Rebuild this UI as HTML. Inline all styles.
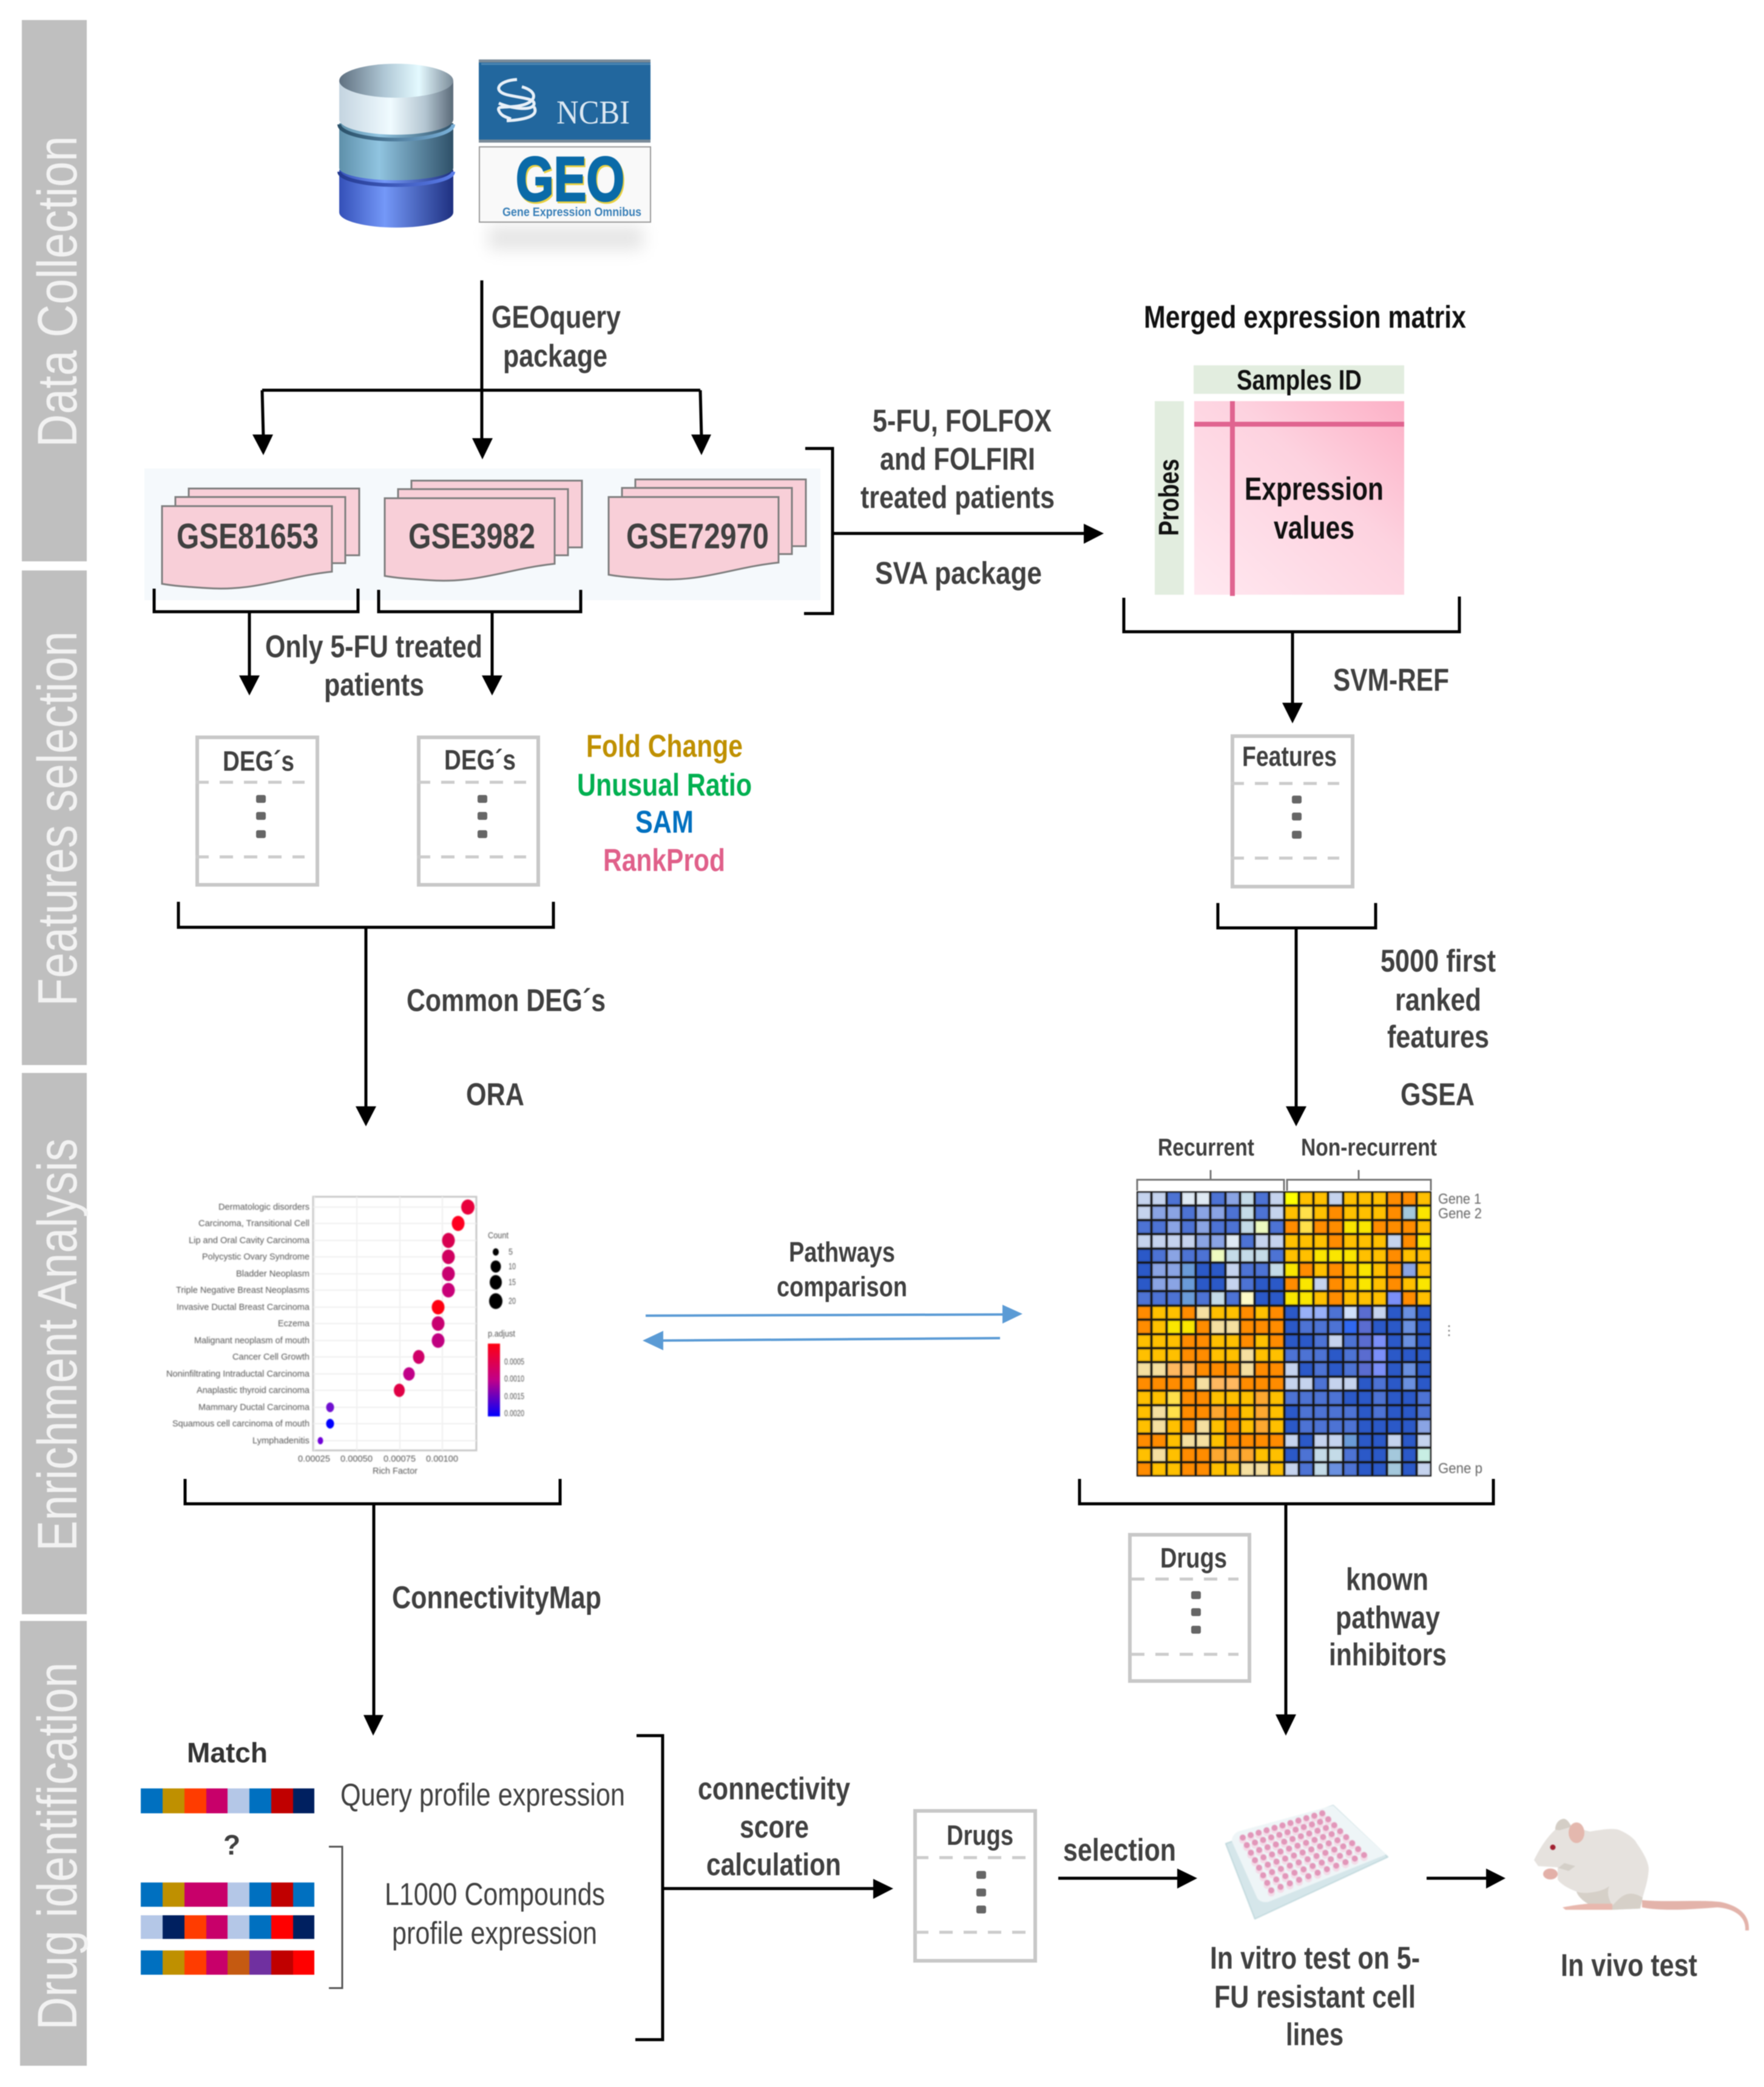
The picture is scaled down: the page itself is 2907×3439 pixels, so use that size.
<!DOCTYPE html>
<html><head><meta charset="utf-8"><title>Workflow</title>
<style>
html,body{margin:0;padding:0;background:#fff}
#w{position:relative;width:2907px;height:3439px;overflow:hidden;background:#fff;filter:blur(.7px)}
svg{position:absolute;left:0;top:0}
text{font-family:"Liberation Sans",sans-serif;font-weight:bold;fill:#404040;dominant-baseline:central}
.n{font-weight:normal}
.k{fill:#111}
.band{font-weight:normal;fill:#f2f2f2;font-size:92px;dominant-baseline:auto}
.dp text{font-weight:normal;fill:#555;font-size:15px}
.l{fill:none;stroke:#000;stroke-width:5}
.dash{stroke:#ccc;stroke-width:5;stroke-dasharray:22 18;fill:none}
.box{fill:#fff;stroke:#c8c8c8;stroke-width:6}
#hm{position:absolute;left:1873px;top:1963px;width:486px;height:470px;box-sizing:border-box;display:grid;grid-template-columns:repeat(20,1fr);grid-template-rows:repeat(20,1fr);gap:3px;padding:2px;background:#141414;filter:blur(.5px)}
#hm i{display:block;box-shadow:inset 0 0 2px 1px rgba(0,0,0,.22)}
.a{background:#c5d3ee}.b{background:#4d73d4}.c{background:#8aa4e4}.d{background:#dfeaf4}.e{background:#c4dbe8}.f{background:#2b59c8}.g{background:#6a9bd8}.h{background:#eefbc0}.j{background:#fffbc8}.k2{background:#5a6cd0}.m{background:#6a90e0}.o{background:#98b0f8}.p{background:#d0e0fa}.q{background:#3068f0}.r{background:#7b8ff8}.s{background:#a4c8dc}.t{background:#c8eee4}
.O{background:#ff8c00}.Y{background:#ffc000}.L{background:#fae600}.T{background:#f5dfa0}.P{background:#ffb860}.Q{background:#fda830}.Z{background:#ffe04a}.W{background:#ffff00}
</style></head><body><div id="w">
<svg width="2907" height="3439" viewBox="0 0 2907 3439" xmlns="http://www.w3.org/2000/svg">
<defs>
<linearGradient id="g1" x1="0" x2="1" y1="0" y2="0"><stop offset="0" stop-color="#c4d4e0"/><stop offset=".45" stop-color="#f0fbff"/><stop offset=".75" stop-color="#b4c6d2"/><stop offset="1" stop-color="#5a6a78"/></linearGradient>
<linearGradient id="g1t" x1="0" x2="1" y1="0" y2="0"><stop offset="0" stop-color="#5f7080"/><stop offset=".4" stop-color="#b0c8d6"/><stop offset=".7" stop-color="#e4faff"/><stop offset="1" stop-color="#7a8a98"/></linearGradient>
<linearGradient id="g2" x1="0" x2="1" y1="0" y2="0"><stop offset="0" stop-color="#5e90aa"/><stop offset=".35" stop-color="#90c4e0"/><stop offset="1" stop-color="#2e5068"/></linearGradient>
<linearGradient id="g3" x1="0" x2="1" y1="0" y2="0"><stop offset="0" stop-color="#3450b8"/><stop offset=".4" stop-color="#7498f8"/><stop offset="1" stop-color="#1e3080"/></linearGradient>
<linearGradient id="lip" x1="0" x2="1" y1="0" y2="0"><stop offset="0" stop-color="#2a5068"/><stop offset="1" stop-color="#7ab0d8"/></linearGradient>
<linearGradient id="lip2" x1="0" x2="1" y1="0" y2="0"><stop offset="0" stop-color="#243a90"/><stop offset="1" stop-color="#5a7ce8"/></linearGradient>
<linearGradient id="pk" x1="0" x2="1" y1="1" y2="0"><stop offset="0" stop-color="#ffe8f0"/><stop offset=".6" stop-color="#fdd2df"/><stop offset="1" stop-color="#fcb0c6"/></linearGradient>
<linearGradient id="pa" x1="0" x2="0" y1="0" y2="1"><stop offset="0" stop-color="#ff0010"/><stop offset=".5" stop-color="#c00088"/><stop offset="1" stop-color="#0000ff"/></linearGradient>
<g id="doc">
<path d="M44 -29H325V81H44Z" fill="#f8cfd8" stroke="#7f7f7f" stroke-width="3"/>
<path d="M22 -15H302V94H22Z" fill="#f8cfd8" stroke="#7f7f7f" stroke-width="3"/>
<path d="M0 0H280V108C203 116 153 141 73 135C43 133 23 132 0 128Z" fill="#f8cfd8" stroke="#7f7f7f" stroke-width="3"/>
</g>
</defs>

<!-- bands -->
<rect x="36" y="33" width="107" height="892" fill="#bfbfbf"/>
<rect x="36" y="940" width="107" height="815" fill="#bfbfbf"/>
<rect x="36" y="1768" width="107" height="892" fill="#bfbfbf"/>
<rect x="33" y="2671" width="110" height="733" fill="#bfbfbf"/>
<text class="band" transform="translate(126 737) rotate(-90)" textLength="513" lengthAdjust="spacingAndGlyphs">Data Collection</text>
<text class="band" transform="translate(126 1658) rotate(-90)" textLength="618" lengthAdjust="spacingAndGlyphs">Features selection</text>
<text class="band" transform="translate(126 2556) rotate(-90)" textLength="680" lengthAdjust="spacingAndGlyphs">Enrichment Analysis</text>
<text class="band" transform="translate(126 3345) rotate(-90)" textLength="606" lengthAdjust="spacingAndGlyphs">Drug identification</text>

<!-- database -->
<path d="M559 280V350A94 25 0 0 0 747 350V280Z" fill="url(#g3)"/>
<path d="M559 283A94 22 0 0 0 747 283" fill="none" stroke="url(#lip2)" stroke-width="6"/>
<path d="M559 203V277A94 20 0 0 0 747 277V203Z" fill="url(#g2)"/>
<path d="M559 205A94 25 0 0 0 747 205" fill="none" stroke="url(#lip)" stroke-width="6"/>
<path d="M559 133V197A94 25 0 0 0 747 197V133Z" fill="url(#g1)"/>
<ellipse cx="653" cy="133" rx="94" ry="28" fill="url(#g1t)"/>

<!-- NCBI GEO -->
<rect x="805" y="372" width="255" height="40" fill="#e6e6e6" style="filter:blur(13px)"/>
<rect x="789" y="98" width="283" height="137" fill="#7a8a98"/>
<rect x="789" y="103" width="283" height="127" fill="#22679e"/>
<rect x="793" y="104" width="279" height="3" fill="#4a86b4"/>
<path d="M852 131C820 133 812 150 835 156C860 162 882 162 880 172C876 184 840 178 822 170M860 143C885 150 885 165 865 172C840 180 818 172 822 182C826 192 835 193 842 196M835 199C870 197 888 190 880 176" fill="none" stroke="#e8f0f8" stroke-width="5"/>
<text x="917" y="185" font-size="55" textLength="121" lengthAdjust="spacingAndGlyphs" style="font-family:'Liberation Serif',serif;font-weight:normal;fill:#dce8f2">NCBI</text>
<rect x="790" y="242" width="282" height="124" fill="#f9f9f9" stroke="#999" stroke-width="2"/>
<text x="850" y="295" font-size="103" textLength="179" lengthAdjust="spacingAndGlyphs" style="fill:#0a6aa8;stroke:#0a6aa8;stroke-width:3;filter:drop-shadow(2px 3px 0 #e8d040)">GEO</text>
<text x="828" y="350" font-size="20" textLength="229" lengthAdjust="spacingAndGlyphs" style="fill:#3a80b8">Gene Expression Omnibus</text>

<!-- top arrows -->
<path class="l" d="M794 462V725M432 643H1154M432 643L434 720M1154 643L1156 720"/>
<polygon points="778,722 812,722 795,757" fill="#000"/>
<polygon points="416,716 450,716 434,750" fill="#000"/>
<polygon points="1139,716 1172,716 1156,750" fill="#000"/>
<text x="810" y="523" font-size="52" textLength="213" lengthAdjust="spacingAndGlyphs">GEOquery</text>
<text x="829" y="587" font-size="52" textLength="172" lengthAdjust="spacingAndGlyphs">package</text>

<rect x="238" y="772" width="1114" height="217" fill="#f5f9fc"/>
<use href="#doc" x="267" y="834"/>
<use href="#doc" x="634" y="821"/>
<use href="#doc" x="1003" y="819"/>
<text x="291" y="884" font-size="58" textLength="234" lengthAdjust="spacingAndGlyphs">GSE81653</text>
<text x="673" y="884" font-size="58" textLength="209" lengthAdjust="spacingAndGlyphs">GSE3982</text>
<text x="1032" y="884" font-size="58" textLength="235" lengthAdjust="spacingAndGlyphs">GSE72970</text>

<path class="l" d="M254 970V1008H590V970M624 972V1008H957V972M411 1008V1120M811 1008V1120"/>
<polygon points="394,1113 428,1113 411,1146" fill="#000"/>
<polygon points="794,1113 828,1113 811,1146" fill="#000"/>
<text x="437" y="1066" font-size="52" textLength="358" lengthAdjust="spacingAndGlyphs">Only 5-FU treated</text>
<text x="534" y="1129" font-size="52" textLength="165" lengthAdjust="spacingAndGlyphs">patients</text>

<!-- right bracket -->
<path class="l" d="M1327 739H1372V1011H1325M1372 879H1790"/>
<polygon points="1786,863 1786,896 1819,879" fill="#000"/>
<text x="1438" y="694" font-size="52" textLength="295" lengthAdjust="spacingAndGlyphs">5-FU, FOLFOX</text>
<text x="1450" y="757" font-size="52" textLength="256" lengthAdjust="spacingAndGlyphs">and FOLFIRI</text>
<text x="1418" y="820" font-size="52" textLength="320" lengthAdjust="spacingAndGlyphs">treated patients</text>
<text x="1442" y="945" font-size="52" textLength="275" lengthAdjust="spacingAndGlyphs">SVA package</text>

<!-- matrix -->
<text x="1885" y="523" font-size="52" textLength="531" lengthAdjust="spacingAndGlyphs" class="k">Merged expression matrix</text>
<rect x="1967" y="602" width="347" height="47" fill="#e2eddf"/>
<text x="2038" y="626" font-size="46" textLength="206" lengthAdjust="spacingAndGlyphs" class="k">Samples ID</text>
<rect x="1903" y="661" width="48" height="319" fill="#e2eddf"/>
<text transform="translate(1926 883) rotate(-90)" font-size="46" textLength="127" lengthAdjust="spacingAndGlyphs" class="k">Probes</text>
<rect x="1968" y="661" width="346" height="319" fill="url(#pk)"/>
<rect x="1968" y="695" width="346" height="8" fill="#e06490"/>
<rect x="2027" y="661" width="8" height="321" fill="#e06490"/>
<text x="2051" y="806" font-size="53" textLength="229" lengthAdjust="spacingAndGlyphs" class="k">Expression</text>
<text x="2099" y="870" font-size="53" textLength="133" lengthAdjust="spacingAndGlyphs" class="k">values</text>

<path class="l" d="M1852 985V1041H2405V983M2130 1041V1165"/>
<polygon points="2113,1158 2147,1158 2130,1192" fill="#000"/>
<text x="2197" y="1121" font-size="52" textLength="191" lengthAdjust="spacingAndGlyphs">SVM-REF</text>

<!-- Features box -->
<rect class="box" x="2031" y="1213" width="198" height="248"/>
<text x="2047" y="1246" font-size="46" textLength="156" lengthAdjust="spacingAndGlyphs">Features</text>
<path class="dash" d="M2028 1291H2207M2028 1414H2207"/>
<g fill="#666"><rect x="2129" y="1311" width="16" height="13" rx="3"/><rect x="2129" y="1339" width="16" height="13" rx="3"/><rect x="2129" y="1369" width="16" height="13" rx="3"/></g>
<path class="l" d="M2007 1488V1529H2267V1488M2136 1529V1830"/>
<polygon points="2119,1823 2153,1823 2136,1856" fill="#000"/>
<text x="2275" y="1584" font-size="52" textLength="190" lengthAdjust="spacingAndGlyphs">5000 first</text>
<text x="2299" y="1648" font-size="52" textLength="142" lengthAdjust="spacingAndGlyphs">ranked</text>
<text x="2286" y="1709" font-size="52" textLength="168" lengthAdjust="spacingAndGlyphs">features</text>
<text x="2308" y="1804" font-size="52" textLength="122" lengthAdjust="spacingAndGlyphs">GSEA</text>

<!-- DEG boxes -->
<rect class="box" x="325" y="1215" width="198" height="243"/>
<rect class="box" x="690" y="1215" width="197" height="243"/>
<text x="367" y="1254" font-size="46" textLength="118" lengthAdjust="spacingAndGlyphs">DEG´s</text>
<text x="732" y="1252" font-size="46" textLength="118" lengthAdjust="spacingAndGlyphs">DEG´s</text>
<path class="dash" d="M322 1289H502M322 1412H502M687 1289H867M687 1412H867"/>
<g fill="#666"><rect x="422" y="1310" width="16" height="13" rx="3"/><rect x="422" y="1338" width="16" height="13" rx="3"/><rect x="422" y="1368" width="16" height="13" rx="3"/><rect x="787" y="1310" width="16" height="13" rx="3"/><rect x="787" y="1338" width="16" height="13" rx="3"/><rect x="787" y="1368" width="16" height="13" rx="3"/></g>
<text x="966" y="1230" font-size="52" textLength="258" lengthAdjust="spacingAndGlyphs" style="fill:#bf9000">Fold Change</text>
<text x="951" y="1294" font-size="52" textLength="288" lengthAdjust="spacingAndGlyphs" style="fill:#00b050">Unusual Ratio</text>
<text x="1047" y="1355" font-size="52" textLength="96" lengthAdjust="spacingAndGlyphs" style="fill:#0070c0">SAM</text>
<text x="994" y="1418" font-size="52" textLength="201" lengthAdjust="spacingAndGlyphs" style="fill:#e0608a">RankProd</text>

<path class="l" d="M294 1486V1528H912V1486M603 1528V1830"/>
<polygon points="586,1823 620,1823 603,1856" fill="#000"/>
<text x="670" y="1649" font-size="52" textLength="328" lengthAdjust="spacingAndGlyphs">Common DEG´s</text>
<text x="768" y="1804" font-size="52" textLength="96" lengthAdjust="spacingAndGlyphs">ORA</text>

<!-- dot plot -->
<g class="dp" style="filter:blur(.7px)">
<rect x="516" y="1972" width="269" height="418" fill="#fff" stroke="#c8c8c8" stroke-width="3"/>
<path d="M518 1972V2390M588 1972V2390M659 1972V2390M729 1972V2390M516 1989H785M516 2016H785M516 2044H785M516 2071H785M516 2099H785M516 2126H785M516 2154H785M516 2181H785M516 2209H785M516 2236H785M516 2264H785M516 2291H785M516 2319H785M516 2346H785M516 2374H785" stroke="#efefef" stroke-width="2" fill="none"/>
<ellipse cx="771" cy="1989" rx="11" ry="12.5" fill="#e8003c"/>
<ellipse cx="755" cy="2016" rx="10.5" ry="12.5" fill="#ff0020"/>
<ellipse cx="739" cy="2044" rx="10.5" ry="12.5" fill="#d80050"/>
<ellipse cx="739" cy="2071" rx="10.5" ry="12" fill="#d00060"/>
<ellipse cx="739" cy="2099" rx="10.5" ry="12" fill="#c80070"/>
<ellipse cx="739" cy="2126" rx="10.5" ry="12" fill="#c80078"/>
<ellipse cx="722" cy="2154" rx="10.5" ry="12" fill="#ff0010"/>
<ellipse cx="722" cy="2181" rx="10.5" ry="12" fill="#c80070"/>
<ellipse cx="722" cy="2209" rx="10.5" ry="12" fill="#c00080"/>
<ellipse cx="690" cy="2236" rx="9.5" ry="11.5" fill="#d00068"/>
<ellipse cx="674" cy="2264" rx="9.5" ry="11" fill="#c00088"/>
<ellipse cx="658" cy="2291" rx="9" ry="11" fill="#e00045"/>
<ellipse cx="544" cy="2319" rx="6.5" ry="8" fill="#7010d0"/>
<ellipse cx="544" cy="2346" rx="6.5" ry="8" fill="#0000ff"/>
<ellipse cx="528" cy="2374" rx="4.5" ry="6" fill="#7000d8"/>
<text x="360" y="1989" textLength="150" lengthAdjust="spacingAndGlyphs">Dermatologic disorders</text>
<text x="327" y="2016" textLength="183" lengthAdjust="spacingAndGlyphs">Carcinoma, Transitional Cell</text>
<text x="311" y="2044" textLength="199" lengthAdjust="spacingAndGlyphs">Lip and Oral Cavity Carcinoma</text>
<text x="333" y="2071" textLength="177" lengthAdjust="spacingAndGlyphs">Polycystic Ovary Syndrome</text>
<text x="389" y="2099" textLength="121" lengthAdjust="spacingAndGlyphs">Bladder Neoplasm</text>
<text x="290" y="2126" textLength="220" lengthAdjust="spacingAndGlyphs">Triple Negative Breast Neoplasms</text>
<text x="291" y="2154" textLength="219" lengthAdjust="spacingAndGlyphs">Invasive Ductal Breast Carcinoma</text>
<text x="458" y="2181" textLength="52" lengthAdjust="spacingAndGlyphs">Eczema</text>
<text x="320" y="2209" textLength="190" lengthAdjust="spacingAndGlyphs">Malignant neoplasm of mouth</text>
<text x="383" y="2236" textLength="127" lengthAdjust="spacingAndGlyphs">Cancer Cell Growth</text>
<text x="274" y="2264" textLength="236" lengthAdjust="spacingAndGlyphs">Noninfiltrating Intraductal Carcinoma</text>
<text x="324" y="2291" textLength="186" lengthAdjust="spacingAndGlyphs">Anaplastic thyroid carcinoma</text>
<text x="327" y="2319" textLength="183" lengthAdjust="spacingAndGlyphs">Mammary Ductal Carcinoma</text>
<text x="284" y="2346" textLength="226" lengthAdjust="spacingAndGlyphs">Squamous cell carcinoma of mouth</text>
<text x="416" y="2374" textLength="94" lengthAdjust="spacingAndGlyphs">Lymphadenitis</text>
<text x="491" y="2404" textLength="53" lengthAdjust="spacingAndGlyphs">0.00025</text>
<text x="561" y="2404" textLength="53" lengthAdjust="spacingAndGlyphs">0.00050</text>
<text x="632" y="2404" textLength="53" lengthAdjust="spacingAndGlyphs">0.00075</text>
<text x="702" y="2404" textLength="53" lengthAdjust="spacingAndGlyphs">0.00100</text>
<text x="614" y="2424" textLength="74" lengthAdjust="spacingAndGlyphs">Rich Factor</text>
<text x="804" y="2036" textLength="34" lengthAdjust="spacingAndGlyphs">Count</text>
<ellipse cx="817" cy="2063" rx="5" ry="6"/><ellipse cx="817" cy="2087" rx="8.5" ry="10"/><ellipse cx="817" cy="2113" rx="10" ry="12"/><ellipse cx="817" cy="2144" rx="11" ry="13"/>
<text x="838" y="2063" textLength="7" lengthAdjust="spacingAndGlyphs">5</text>
<text x="838" y="2087" textLength="12" lengthAdjust="spacingAndGlyphs">10</text>
<text x="838" y="2113" textLength="12" lengthAdjust="spacingAndGlyphs">15</text>
<text x="838" y="2144" textLength="12" lengthAdjust="spacingAndGlyphs">20</text>
<text x="804" y="2198" textLength="45" lengthAdjust="spacingAndGlyphs">p.adjust</text>
<rect x="804" y="2214" width="20" height="120" fill="url(#pa)"/>
<text x="831" y="2244" textLength="33" lengthAdjust="spacingAndGlyphs" font-size="12">0.0005</text>
<text x="831" y="2272" textLength="33" lengthAdjust="spacingAndGlyphs" font-size="12">0.0010</text>
<text x="831" y="2301" textLength="33" lengthAdjust="spacingAndGlyphs" font-size="12">0.0015</text>
<text x="831" y="2329" textLength="33" lengthAdjust="spacingAndGlyphs" font-size="12">0.0020</text>
</g>

<path class="l" d="M305 2437V2478H923V2437M616 2478V2835"/>
<polygon points="599,2826 632,2826 615,2860" fill="#000"/>
<text x="646" y="2633" font-size="52" textLength="345" lengthAdjust="spacingAndGlyphs">ConnectivityMap</text>

<!-- Pathways -->
<text x="1300" y="2063" font-size="46" textLength="175" lengthAdjust="spacingAndGlyphs">Pathways</text>
<text x="1280" y="2120" font-size="46" textLength="215" lengthAdjust="spacingAndGlyphs">comparison</text>
<path d="M1064 2168L1654 2166M1648 2205L1088 2209" stroke="#5b9bd5" stroke-width="4" fill="none"/>
<polygon points="1652,2150 1685,2165 1652,2181" fill="#5b9bd5"/>
<polygon points="1093,2193 1059,2209 1093,2225" fill="#5b9bd5"/>

<!-- Heatmap labels -->
<text x="1908" y="1891" font-size="40" textLength="159" lengthAdjust="spacingAndGlyphs">Recurrent</text>
<text x="2144" y="1891" font-size="40" textLength="224" lengthAdjust="spacingAndGlyphs">Non-recurrent</text>
<path d="M1874 1962V1944H2116V1962M2121 1962V1944H2358V1962M1995 1928V1944M2239 1928V1944" stroke="#777" stroke-width="3" fill="none"/>
<g style="filter:blur(.5px)">
<text class="n" x="2370" y="1976" font-size="24" textLength="71" lengthAdjust="spacingAndGlyphs" style="fill:#666">Gene 1</text>
<text class="n" x="2370" y="2000" font-size="24" textLength="72" lengthAdjust="spacingAndGlyphs" style="fill:#666">Gene 2</text>
<text class="n" x="2370" y="2420" font-size="24" textLength="73" lengthAdjust="spacingAndGlyphs" style="fill:#666">Gene p</text>
<text class="n" x="2377" y="2192" font-size="22" style="fill:#666">⋮</text>
</g>

<path class="l" d="M1779 2437V2478H2461V2437M2119 2478V2830"/>
<polygon points="2102,2825 2136,2825 2119,2860" fill="#000"/>
<rect class="box" x="1862" y="2529" width="197" height="241"/>
<text x="1912" y="2567" font-size="46" textLength="110" lengthAdjust="spacingAndGlyphs">Drugs</text>
<path class="dash" d="M1864 2602H2041M1864 2726H2041"/>
<g fill="#666"><rect x="1963" y="2622" width="16" height="13" rx="3"/><rect x="1963" y="2650" width="16" height="13" rx="3"/><rect x="1963" y="2679" width="16" height="13" rx="3"/></g>
<text x="2218" y="2603" font-size="52" textLength="136" lengthAdjust="spacingAndGlyphs">known</text>
<text x="2201" y="2666" font-size="52" textLength="172" lengthAdjust="spacingAndGlyphs">pathway</text>
<text x="2190" y="2727" font-size="52" textLength="194" lengthAdjust="spacingAndGlyphs">inhibitors</text>

<!-- bottom left -->
<text x="308" y="2888" font-size="46" textLength="133" lengthAdjust="spacingAndGlyphs" style="fill:#333">Match</text>
<g>
<rect x="232" y="2947" width="36" height="41" fill="#0070c0"/><rect x="268" y="2947" width="36" height="41" fill="#bf9000"/><rect x="304" y="2947" width="36" height="41" fill="#ff3c00"/><rect x="340" y="2947" width="35" height="41" fill="#c8006a"/><rect x="375" y="2947" width="36" height="41" fill="#b4c7e7"/><rect x="411" y="2947" width="36" height="41" fill="#0070c0"/><rect x="447" y="2947" width="36" height="41" fill="#c00000"/><rect x="483" y="2947" width="35" height="41" fill="#002060"/>
<rect x="232" y="3102" width="36" height="40" fill="#0070c0"/><rect x="268" y="3102" width="36" height="40" fill="#bf9000"/><rect x="304" y="3102" width="36" height="40" fill="#c8006a"/><rect x="340" y="3102" width="35" height="40" fill="#c8006a"/><rect x="375" y="3102" width="36" height="40" fill="#b4c7e7"/><rect x="411" y="3102" width="36" height="40" fill="#0070c0"/><rect x="447" y="3102" width="36" height="40" fill="#c00000"/><rect x="483" y="3102" width="35" height="40" fill="#0070c0"/>
<rect x="232" y="3156" width="36" height="39" fill="#b4c7e7"/><rect x="268" y="3156" width="36" height="39" fill="#002060"/><rect x="304" y="3156" width="36" height="39" fill="#ff3c00"/><rect x="340" y="3156" width="35" height="39" fill="#c8006a"/><rect x="375" y="3156" width="36" height="39" fill="#b4c7e7"/><rect x="411" y="3156" width="36" height="39" fill="#0070c0"/><rect x="447" y="3156" width="36" height="39" fill="#ff0000"/><rect x="483" y="3156" width="35" height="39" fill="#002060"/>
<rect x="232" y="3214" width="36" height="40" fill="#0070c0"/><rect x="268" y="3214" width="36" height="40" fill="#bf9000"/><rect x="304" y="3214" width="36" height="40" fill="#ff3c00"/><rect x="340" y="3214" width="35" height="40" fill="#c8006a"/><rect x="375" y="3214" width="36" height="40" fill="#c55a11"/><rect x="411" y="3214" width="36" height="40" fill="#7030a0"/><rect x="447" y="3214" width="36" height="40" fill="#c00000"/><rect x="483" y="3214" width="35" height="40" fill="#ff0000"/>
</g>
<text x="368" y="3040" font-size="46">?</text>
<path d="M542 3043H564V3276H542" fill="none" stroke="#555" stroke-width="3"/>
<text class="n" x="561" y="2958" font-size="52" textLength="469" lengthAdjust="spacingAndGlyphs">Query profile expression</text>
<text class="n" x="634" y="3122" font-size="52" textLength="363" lengthAdjust="spacingAndGlyphs">L1000 Compounds</text>
<text class="n" x="646" y="3186" font-size="52" textLength="338" lengthAdjust="spacingAndGlyphs">profile expression</text>

<path class="l" d="M1049 2860H1092V3361H1047M1092 3112H1445"/>
<polygon points="1439,3096 1439,3129 1472,3112" fill="#000"/>
<text x="1150" y="2948" font-size="52" textLength="251" lengthAdjust="spacingAndGlyphs">connectivity</text>
<text x="1219" y="3011" font-size="52" textLength="114" lengthAdjust="spacingAndGlyphs">score</text>
<text x="1164" y="3073" font-size="52" textLength="222" lengthAdjust="spacingAndGlyphs">calculation</text>

<rect class="box" x="1508" y="2984" width="198" height="247"/>
<text x="1560" y="3024" font-size="46" textLength="110" lengthAdjust="spacingAndGlyphs">Drugs</text>
<path class="dash" d="M1508 3061H1690M1508 3184H1690"/>
<g fill="#666"><rect x="1609" y="3083" width="16" height="13" rx="3"/><rect x="1609" y="3112" width="16" height="13" rx="3"/><rect x="1609" y="3140" width="16" height="13" rx="3"/></g>
<text x="1752" y="3049" font-size="52" textLength="186" lengthAdjust="spacingAndGlyphs">selection</text>
<path class="l" d="M1744 3095H1945M2351 3095H2455"/>
<polygon points="1940,3079 1940,3112 1973,3095" fill="#000"/>
<polygon points="2449,3079 2449,3112 2481,3095" fill="#000"/>

<!-- plate -->
<g style="filter:blur(.8px)">
<path d="M2197 2975L2020 3038L2068 3162L2287 3060Z" fill="#d5e6ea" stroke="#c0d8dc" stroke-width="2" stroke-linejoin="round"/>
<path d="M2040 3018L2197 2975L2284 3056L2090 3134Q2078 3136 2072 3128L2030 3034Q2030 3024 2040 3018Z" fill="#eef5f7"/>
<g fill="none" stroke-linecap="round" stroke="#f3dce8" stroke-width="12" stroke-dasharray="0.001 1">
<path pathLength="11" d="M2048 3032L2192 2988"/><path pathLength="11" d="M2054.7 3044.4L2202.1 2997.6"/><path pathLength="11" d="M2061.4 3056.9L2212.3 3007.1"/><path pathLength="11" d="M2068.1 3069.3L2222.4 3016.7"/><path pathLength="11" d="M2074.9 3081.7L2232.6 3026.3"/><path pathLength="11" d="M2081.6 3094.1L2242.7 3035.9"/><path pathLength="11" d="M2088.3 3106.6L2252.9 3045.4"/><path pathLength="11" d="M2095 3119L2263 3055"/>
</g>
<g fill="none" stroke-linecap="round" stroke="#e296b9" stroke-width="10" stroke-dasharray="0.001 1">
<path pathLength="11" d="M2048 3028L2192 2984"/><path pathLength="11" d="M2054.7 3040.4L2202.1 2993.6"/><path pathLength="11" d="M2061.4 3052.9L2212.3 3003.1"/><path pathLength="11" d="M2068.1 3065.3L2222.4 3012.7"/><path pathLength="11" d="M2074.9 3077.7L2232.6 3022.3"/><path pathLength="11" d="M2081.6 3090.1L2242.7 3031.9"/><path pathLength="11" d="M2088.3 3102.6L2252.9 3041.4"/><path pathLength="11" d="M2095 3115L2263 3051"/>
</g>
</g>

<!-- mouse -->
<g style="filter:blur(.6px)">
<path d="M2706 3131C2750 3135 2800 3130 2835 3134C2865 3140 2884 3155 2882 3181L2876 3181C2878 3160 2860 3145 2830 3143C2790 3146 2740 3150 2706 3143Z" fill="#e3b3aa"/>
<path d="M2528 3065C2536 3048 2550 3026 2563 3015C2563 3006 2568 2998 2577 2997C2584 2998 2587 3006 2590 3010L2620 3018C2640 3015 2655 3012 2667 3015C2685 3022 2695 3032 2697 3037C2710 3055 2717 3070 2717 3080C2716 3100 2710 3115 2707 3127L2703 3145L2657 3147L2617 3137C2608 3132 2600 3124 2598 3117C2585 3112 2572 3105 2567 3097L2567 3077L2535 3075Z" fill="#e6e2de"/>
<path d="M2598 3117C2610 3122 2640 3118 2652 3108C2648 3118 2650 3128 2657 3140C2668 3130 2680 3110 2707 3127L2703 3145L2657 3147L2617 3137C2608 3132 2600 3124 2598 3117Z" fill="#d6d0c8"/>
<path d="M2575 3143C2590 3140 2605 3138 2617 3137L2657 3137V3147H2580Z" fill="#e8b8ae"/>
<path d="M2563 3015C2563 3006 2568 2998 2577 2997C2584 2998 2587 3006 2590 3010L2570 3016Z" fill="#d4cec6"/>
<ellipse cx="2598" cy="3020" rx="13" ry="17" fill="#e4b8ae"/>
<path d="M2578 3070L2596 3075L2585 3083L2568 3078Z" fill="#d4cfc8"/>
<circle cx="2559" cy="3044" r="4.5" fill="#a02030"/>
<ellipse cx="2555" cy="3088" rx="12" ry="9" fill="#e3b0a8"/>
</g>

<text x="1994" y="3227" font-size="52" textLength="346" lengthAdjust="spacingAndGlyphs">In vitro test on 5-</text>
<text x="2001" y="3291" font-size="52" textLength="332" lengthAdjust="spacingAndGlyphs">FU resistant cell</text>
<text x="2119" y="3353" font-size="52" textLength="95" lengthAdjust="spacingAndGlyphs">lines</text>
<text x="2572" y="3239" font-size="52" textLength="225" lengthAdjust="spacingAndGlyphs">In vivo test</text>
</svg>

<div id="hm">
<i class=a></i><i class=a></i><i class=b></i><i class=d></i><i class=d></i><i class=b></i><i class=c></i><i class=e></i><i class=b></i><i class=a></i><i class=W></i><i class=Y></i><i class=Y></i><i class=a></i><i class=Y></i><i class=Y></i><i class=Y></i><i class=O></i><i class=O></i><i class=Y></i>
<i class=a></i><i class=c></i><i class=c></i><i class=b></i><i class=c></i><i class=c></i><i class=b></i><i class=e></i><i class=b></i><i class=a></i><i class=Y></i><i class=Z></i><i class=Y></i><i class=O></i><i class=Y></i><i class=Y></i><i class=Y></i><i class=O></i><i class=s></i><i class=L></i>
<i class=b></i><i class=b></i><i class=c></i><i class=b></i><i class=c></i><i class=b></i><i class=b></i><i class=e></i><i class=h></i><i class=b></i><i class=O></i><i class=Z></i><i class=O></i><i class=O></i><i class=L></i><i class=L></i><i class=O></i><i class=O></i><i class=O></i><i class=Y></i>
<i class=a></i><i class=a></i><i class=a></i><i class=a></i><i class=c></i><i class=c></i><i class=d></i><i class=b></i><i class=a></i><i class=a></i><i class=Y></i><i class=Y></i><i class=Y></i><i class=O></i><i class=Y></i><i class=Y></i><i class=Y></i><i class=a></i><i class=O></i><i class=L></i>
<i class=f></i><i class=b></i><i class=c></i><i class=b></i><i class=b></i><i class=h></i><i class=e></i><i class=e></i><i class=e></i><i class=b></i><i class=Y></i><i class=Y></i><i class=L></i><i class=L></i><i class=L></i><i class=Y></i><i class=Y></i><i class=O></i><i class=Y></i><i class=Y></i>
<i class=f></i><i class=c></i><i class=c></i><i class=g></i><i class=f></i><i class=f></i><i class=a></i><i class=b></i><i class=b></i><i class=e></i><i class=L></i><i class=O></i><i class=Y></i><i class=O></i><i class=Y></i><i class=L></i><i class=Y></i><i class=O></i><i class=c></i><i class=Y></i>
<i class=f></i><i class=c></i><i class=c></i><i class=g></i><i class=f></i><i class=f></i><i class=a></i><i class=b></i><i class=f></i><i class=f></i><i class=O></i><i class=L></i><i class=a></i><i class=O></i><i class=Y></i><i class=L></i><i class=Y></i><i class=O></i><i class=Y></i><i class=L></i>
<i class=b></i><i class=b></i><i class=b></i><i class=g></i><i class=b></i><i class=e></i><i class=b></i><i class=j></i><i class=f></i><i class=f></i><i class=L></i><i class=L></i><i class=Y></i><i class=O></i><i class=Y></i><i class=Y></i><i class=Y></i><i class=r></i><i class=O></i><i class=Y></i>
<i class=O></i><i class=Y></i><i class=Y></i><i class=O></i><i class=T></i><i class=Y></i><i class=Y></i><i class=O></i><i class=Y></i><i class=O></i><i class=f></i><i class=o></i><i class=o></i><i class=b></i><i class=p></i><i class=k2></i><i class=a></i><i class=f></i><i class=m></i><i class=f></i>
<i class=O></i><i class=Y></i><i class=L></i><i class=L></i><i class=O></i><i class=T></i><i class=T></i><i class=O></i><i class=O></i><i class=O></i><i class=f></i><i class=b></i><i class=b></i><i class=b></i><i class=q></i><i class=k2></i><i class=f></i><i class=f></i><i class=m></i><i class=f></i>
<i class=Y></i><i class=Y></i><i class=Y></i><i class=O></i><i class=O></i><i class=Y></i><i class=Y></i><i class=O></i><i class=Y></i><i class=O></i><i class=f></i><i class=f></i><i class=b></i><i class=a></i><i class=b></i><i class=k2></i><i class=r></i><i class=f></i><i class=m></i><i class=f></i>
<i class=Y></i><i class=Y></i><i class=Y></i><i class=O></i><i class=O></i><i class=Y></i><i class=Y></i><i class=T></i><i class=Y></i><i class=Y></i><i class=b></i><i class=b></i><i class=b></i><i class=f></i><i class=b></i><i class=k2></i><i class=r></i><i class=f></i><i class=f></i><i class=f></i>
<i class=T></i><i class=T></i><i class=P></i><i class=P></i><i class=O></i><i class=O></i><i class=O></i><i class=T></i><i class=O></i><i class=O></i><i class=a></i><i class=f></i><i class=b></i><i class=f></i><i class=b></i><i class=k2></i><i class=r></i><i class=f></i><i class=m></i><i class=f></i>
<i class=O></i><i class=O></i><i class=O></i><i class=O></i><i class=T></i><i class=P></i><i class=P></i><i class=O></i><i class=O></i><i class=O></i><i class=a></i><i class=a></i><i class=b></i><i class=a></i><i class=a></i><i class=f></i><i class=b></i><i class=f></i><i class=m></i><i class=f></i>
<i class=Y></i><i class=Y></i><i class=Z></i><i class=O></i><i class=O></i><i class=Y></i><i class=Y></i><i class=Y></i><i class=Q></i><i class=Y></i><i class=b></i><i class=b></i><i class=b></i><i class=b></i><i class=f></i><i class=f></i><i class=b></i><i class=f></i><i class=f></i><i class=b></i>
<i class=Y></i><i class=T></i><i class=Z></i><i class=O></i><i class=O></i><i class=Q></i><i class=O></i><i class=Y></i><i class=Q></i><i class=Y></i><i class=f></i><i class=b></i><i class=b></i><i class=b></i><i class=b></i><i class=f></i><i class=b></i><i class=f></i><i class=f></i><i class=b></i>
<i class=Y></i><i class=T></i><i class=Y></i><i class=O></i><i class=T></i><i class=Y></i><i class=O></i><i class=Y></i><i class=Q></i><i class=Y></i><i class=f></i><i class=b></i><i class=b></i><i class=b></i><i class=b></i><i class=f></i><i class=f></i><i class=f></i><i class=f></i><i class=c></i>
<i class=O></i><i class=O></i><i class=Y></i><i class=T></i><i class=T></i><i class=Y></i><i class=O></i><i class=O></i><i class=O></i><i class=O></i><i class=a></i><i class=f></i><i class=a></i><i class=a></i><i class=g></i><i class=f></i><i class=f></i><i class=a></i><i class=f></i><i class=a></i>
<i class=Y></i><i class=T></i><i class=Y></i><i class=O></i><i class=O></i><i class=Q></i><i class=Q></i><i class=Q></i><i class=Y></i><i class=Y></i><i class=f></i><i class=b></i><i class=e></i><i class=e></i><i class=b></i><i class=f></i><i class=f></i><i class=s></i><i class=f></i><i class=t></i>
<i class=O></i><i class=Y></i><i class=Y></i><i class=O></i><i class=O></i><i class=Y></i><i class=Y></i><i class=T></i><i class=T></i><i class=Y></i><i class=a></i><i class=b></i><i class=e></i><i class=m></i><i class=b></i><i class=f></i><i class=f></i><i class=s></i><i class=f></i><i class=a></i>
</div>
</div></body></html>
